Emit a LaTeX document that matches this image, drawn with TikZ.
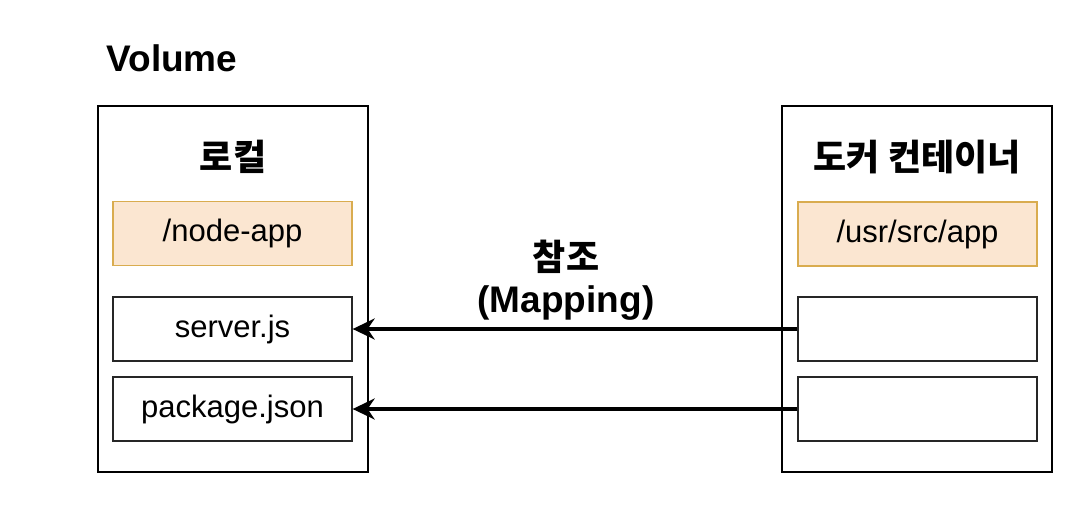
\documentclass[tikz,border=0pt]{standalone}
\usepackage{fontspec}
\setmainfont{Liberation Sans}
\newfontfamily\kr{Noto Sans CJK KR}
\usetikzlibrary{arrows.meta}
\definecolor{orfill}{HTML}{FBE6D1}
\definecolor{ordraw}{HTML}{D9AC4F}
\begin{document}
\begin{tikzpicture}[x=1pt,y=-1pt,
  outer/.style={draw=black,line width=1.5pt,minimum width=270pt,minimum height=366pt,inner sep=0pt},
  inbox/.style={draw=black!85,line width=1.3pt,minimum width=239pt,minimum height=64pt,inner sep=0pt,font=\fontsize{31}{36}\selectfont},
  orbox/.style={inbox,draw=ordraw,fill=orfill},
  title/.style={font=\fontsize{37}{40}\selectfont\bfseries,inner sep=0pt},
  krtitle/.style={font=\fontsize{36}{40}\selectfont\kr\bfseries,inner sep=0pt},
  arr/.style={line width=3.2pt,-{Stealth[length=22pt,width=21pt,inset=7pt]}}]
\useasboundingbox (0,0) rectangle (1086,504);
\node[outer] (L) at (233,289) {};
\node[outer] (R) at (917,289) {};
\node[title] (vol) at (172,58) {Volume};
\node[krtitle] (lt) at (233,157) {로컬};
\node[krtitle] (rt) at (917,157) {도커 컨테이너};
\node[orbox] (lo) at (232.5,233.5) {/node-app};
\node[orbox] (ro) at (917.5,234) {/usr/src/app};
\node[inbox] (l1) at (232.5,329) {server.js};
\node[inbox] (l2) at (232.5,409) {package.json};
\node[inbox] (r1) at (917.5,329) {};
\node[inbox] (r2) at (917.5,409) {};
\node[krtitle] (m1) at (566,257) {참조};
\node[title] (m2) at (566,303) {(Mapping)};
\draw[arr] (r1.west) -- (l1.east);
\draw[arr] (r2.west) -- (l2.east);
\end{tikzpicture}
\end{document}
